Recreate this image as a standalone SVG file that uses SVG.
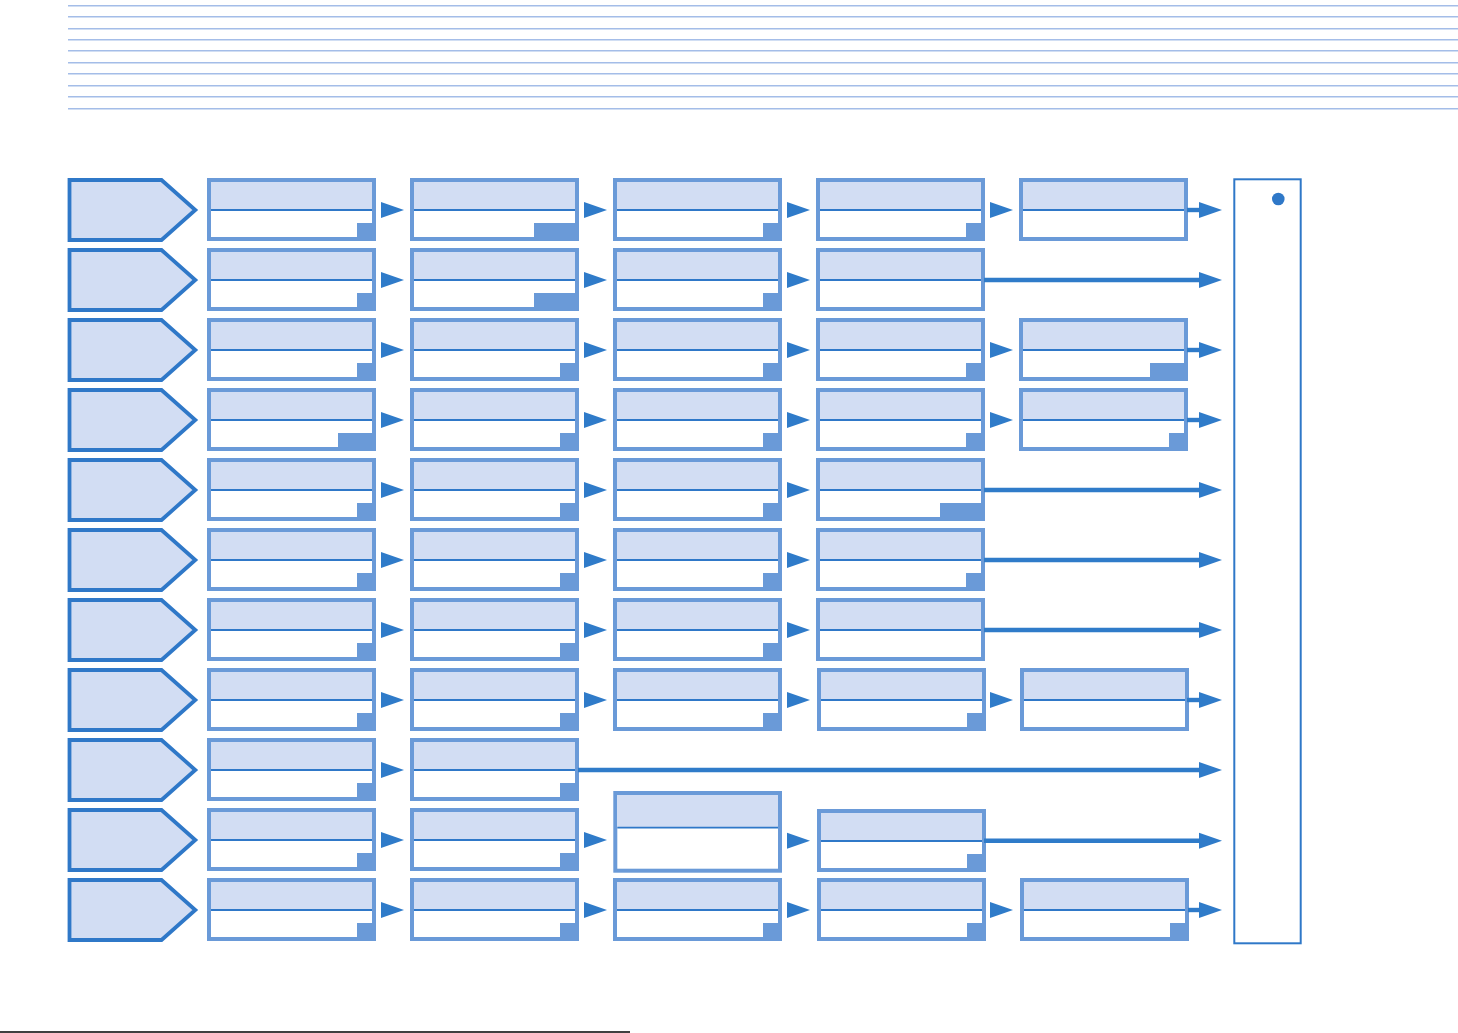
<svg xmlns="http://www.w3.org/2000/svg" xmlns:xlink="http://www.w3.org/1999/xlink" width="1458" height="1033" viewBox="0 0 1458 1033">
<style>
.rule{stroke:#a4bde8;stroke-width:1.6}
.pent{fill:#d2ddf3;stroke:#2f78c8;stroke-width:3.8;stroke-linejoin:miter}
.body{fill:#ffffff;stroke:#6a9ad8;stroke-width:4}
.head{fill:#d2ddf3}
.div{stroke:#2f78c8;stroke-width:1.8}
.sq{fill:#6a9ad8}
.tri{fill:#2f7bc9}
.ln{stroke:#2f7bc9;stroke-width:4.4}
.cont{fill:none;stroke:#2f78c8;stroke-width:2}
</style>
<defs>
<g id="box">
<rect class="body" x="2" y="2" width="165" height="59"/>
<rect class="head" x="4" y="4" width="161" height="27"/>
<line class="div" x1="4" y1="32" x2="165" y2="32"/>
</g>
<g id="boxs">
<use xlink:href="#box"/>
<rect class="sq" x="150" y="45" width="19" height="18"/>
</g>
<g id="boxw45">
<use xlink:href="#box"/>
<rect class="sq" x="124" y="45" width="45" height="18"/>
</g>
<g id="boxw38">
<use xlink:href="#box"/>
<rect class="sq" x="131" y="45" width="38" height="18"/>
</g>
<polygon id="pentShape" class="pent" points="69.5,2 161.5,2 195.3,32 161.5,62 69.5,62"/>
<polygon id="tri" class="tri" points="0,-8 23,0 0,8"/>
</defs>

<g id="rules">
<line class="rule" x1="68" y1="5.8" x2="1458" y2="5.8"/>
<line class="rule" x1="68" y1="16.8" x2="1458" y2="16.8"/>
<line class="rule" x1="68" y1="28.7" x2="1458" y2="28.7"/>
<line class="rule" x1="68" y1="39.7" x2="1458" y2="39.7"/>
<line class="rule" x1="68" y1="50.7" x2="1458" y2="50.7"/>
<line class="rule" x1="68" y1="62.7" x2="1458" y2="62.7"/>
<line class="rule" x1="68" y1="73.7" x2="1458" y2="73.7"/>
<line class="rule" x1="68" y1="85.7" x2="1458" y2="85.7"/>
<line class="rule" x1="68" y1="96.7" x2="1458" y2="96.7"/>
<line class="rule" x1="68" y1="108.7" x2="1458" y2="108.7"/>
</g>

<g id="container">
<rect class="cont" x="1234.3" y="179.3" width="66.4" height="764"/>
<circle cx="1278.3" cy="199" r="6.3" fill="#2f78c8"/>
</g>

<g id="heads">
<use id="p1" xlink:href="#pentShape" y="178"/>
<use id="p2" xlink:href="#pentShape" y="248"/>
<use id="p3" xlink:href="#pentShape" y="318"/>
<use id="p4" xlink:href="#pentShape" y="388"/>
<use id="p5" xlink:href="#pentShape" y="458"/>
<use id="p6" xlink:href="#pentShape" y="528"/>
<use id="p7" xlink:href="#pentShape" y="598"/>
<use id="p8" xlink:href="#pentShape" y="668"/>
<use id="p9" xlink:href="#pentShape" y="738"/>
<use id="p10" xlink:href="#pentShape" y="808"/>
<use id="p11" xlink:href="#pentShape" y="878"/>
</g>

<g id="nodes">
<!-- row 1 -->
<use id="r1c1" xlink:href="#boxs" x="207" y="178"/>
<use id="r1c2" xlink:href="#boxw45" x="410" y="178"/>
<use id="r1c3" xlink:href="#boxs" x="613" y="178"/>
<use id="r1c4" xlink:href="#boxs" x="816" y="178"/>
<use id="r1c5" xlink:href="#box" x="1019" y="178"/>
<!-- row 2 -->
<use id="r2c1" xlink:href="#boxs" x="207" y="248"/>
<use id="r2c2" xlink:href="#boxw45" x="410" y="248"/>
<use id="r2c3" xlink:href="#boxs" x="613" y="248"/>
<use id="r2c4" xlink:href="#box" x="816" y="248"/>
<!-- row 3 -->
<use id="r3c1" xlink:href="#boxs" x="207" y="318"/>
<use id="r3c2" xlink:href="#boxs" x="410" y="318"/>
<use id="r3c3" xlink:href="#boxs" x="613" y="318"/>
<use id="r3c4" xlink:href="#boxs" x="816" y="318"/>
<use id="r3c5" xlink:href="#boxw38" x="1019" y="318"/>
<!-- row 4 -->
<use id="r4c1" xlink:href="#boxw38" x="207" y="388"/>
<use id="r4c2" xlink:href="#boxs" x="410" y="388"/>
<use id="r4c3" xlink:href="#boxs" x="613" y="388"/>
<use id="r4c4" xlink:href="#boxs" x="816" y="388"/>
<use id="r4c5" xlink:href="#boxs" x="1019" y="388"/>
<!-- row 5 -->
<use id="r5c1" xlink:href="#boxs" x="207" y="458"/>
<use id="r5c2" xlink:href="#boxs" x="410" y="458"/>
<use id="r5c3" xlink:href="#boxs" x="613" y="458"/>
<use id="r5c4" xlink:href="#boxw45" x="816" y="458"/>
<!-- row 6 -->
<use id="r6c1" xlink:href="#boxs" x="207" y="528"/>
<use id="r6c2" xlink:href="#boxs" x="410" y="528"/>
<use id="r6c3" xlink:href="#boxs" x="613" y="528"/>
<use id="r6c4" xlink:href="#boxs" x="816" y="528"/>
<!-- row 7 -->
<use id="r7c1" xlink:href="#boxs" x="207" y="598"/>
<use id="r7c2" xlink:href="#boxs" x="410" y="598"/>
<use id="r7c3" xlink:href="#boxs" x="613" y="598"/>
<use id="r7c4" xlink:href="#box" x="816" y="598"/>
<!-- row 8 -->
<use id="r8c1" xlink:href="#boxs" x="207" y="668"/>
<use id="r8c2" xlink:href="#boxs" x="410" y="668"/>
<use id="r8c3" xlink:href="#boxs" x="613" y="668"/>
<use id="r8c4" xlink:href="#boxs" x="817" y="668"/>
<use id="r8c5" xlink:href="#box" x="1020" y="668"/>
<!-- row 9 -->
<use id="r9c1" xlink:href="#boxs" x="207" y="738"/>
<use id="r9c2" xlink:href="#boxs" x="410" y="738"/>
<!-- row 10 -->
<use id="r10c1" xlink:href="#boxs" x="207" y="808"/>
<use id="r10c2" xlink:href="#boxs" x="410" y="808"/>
<g id="r10c3">
<rect class="body" x="615.3" y="793" width="164.7" height="77.7"/>
<rect class="head" x="617.3" y="795" width="160.7" height="32"/>
<line class="div" x1="617.3" y1="827.7" x2="778" y2="827.7"/>
</g>
<use id="r10c4" xlink:href="#boxs" x="817" y="809"/>
<!-- row 11 -->
<use id="r11c1" xlink:href="#boxs" x="207" y="878"/>
<use id="r11c2" xlink:href="#boxs" x="410" y="878"/>
<use id="r11c3" xlink:href="#boxs" x="613" y="878"/>
<use id="r11c4" xlink:href="#boxs" x="817" y="878"/>
<use id="r11c5" xlink:href="#boxs" x="1020" y="878"/>
</g>

<g id="connectors">
<!-- row 1 y=210 -->
<use xlink:href="#tri" x="381" y="210"/><use xlink:href="#tri" x="584" y="210"/><use xlink:href="#tri" x="787" y="210"/><use xlink:href="#tri" x="990" y="210"/>
<line class="ln" x1="1187" y1="210" x2="1201" y2="210"/><use xlink:href="#tri" x="1199" y="210"/>
<!-- row 2 y=280 -->
<use xlink:href="#tri" x="381" y="280"/><use xlink:href="#tri" x="584" y="280"/><use xlink:href="#tri" x="787" y="280"/>
<line class="ln" x1="984" y1="280" x2="1201" y2="280"/><use xlink:href="#tri" x="1199" y="280"/>
<!-- row 3 y=350 -->
<use xlink:href="#tri" x="381" y="350"/><use xlink:href="#tri" x="584" y="350"/><use xlink:href="#tri" x="787" y="350"/><use xlink:href="#tri" x="990" y="350"/>
<line class="ln" x1="1187" y1="350" x2="1201" y2="350"/><use xlink:href="#tri" x="1199" y="350"/>
<!-- row 4 y=420 -->
<use xlink:href="#tri" x="381" y="420"/><use xlink:href="#tri" x="584" y="420"/><use xlink:href="#tri" x="787" y="420"/><use xlink:href="#tri" x="990" y="420"/>
<line class="ln" x1="1187" y1="420" x2="1201" y2="420"/><use xlink:href="#tri" x="1199" y="420"/>
<!-- row 5 y=490 -->
<use xlink:href="#tri" x="381" y="490"/><use xlink:href="#tri" x="584" y="490"/><use xlink:href="#tri" x="787" y="490"/>
<line class="ln" x1="984" y1="490" x2="1201" y2="490"/><use xlink:href="#tri" x="1199" y="490"/>
<!-- row 6 y=560 -->
<use xlink:href="#tri" x="381" y="560"/><use xlink:href="#tri" x="584" y="560"/><use xlink:href="#tri" x="787" y="560"/>
<line class="ln" x1="984" y1="560" x2="1201" y2="560"/><use xlink:href="#tri" x="1199" y="560"/>
<!-- row 7 y=630 -->
<use xlink:href="#tri" x="381" y="630"/><use xlink:href="#tri" x="584" y="630"/><use xlink:href="#tri" x="787" y="630"/>
<line class="ln" x1="984" y1="630" x2="1201" y2="630"/><use xlink:href="#tri" x="1199" y="630"/>
<!-- row 8 y=700 -->
<use xlink:href="#tri" x="381" y="700"/><use xlink:href="#tri" x="584" y="700"/><use xlink:href="#tri" x="787" y="700"/><use xlink:href="#tri" x="990" y="700"/>
<line class="ln" x1="1187" y1="700" x2="1201" y2="700"/><use xlink:href="#tri" x="1199" y="700"/>
<!-- row 9 y=770 -->
<use xlink:href="#tri" x="381" y="770"/>
<line class="ln" x1="578" y1="770" x2="1201" y2="770"/><use xlink:href="#tri" x="1199" y="770"/>
<!-- row 10 y=840 -->
<use xlink:href="#tri" x="381" y="840"/><use xlink:href="#tri" x="584" y="840"/><use xlink:href="#tri" x="787" y="840.7"/>
<line class="ln" x1="984" y1="840.7" x2="1201" y2="840.7"/><use xlink:href="#tri" x="1199" y="840.7"/>
<!-- row 11 y=910 -->
<use xlink:href="#tri" x="381" y="910"/><use xlink:href="#tri" x="584" y="910"/><use xlink:href="#tri" x="787" y="910"/><use xlink:href="#tri" x="990" y="910"/>
<line class="ln" x1="1188" y1="910" x2="1201" y2="910"/><use xlink:href="#tri" x="1199" y="910"/>
</g>

<line x1="0" y1="1032" x2="630" y2="1032" stroke="#000000" stroke-width="1.4"/>
</svg>
